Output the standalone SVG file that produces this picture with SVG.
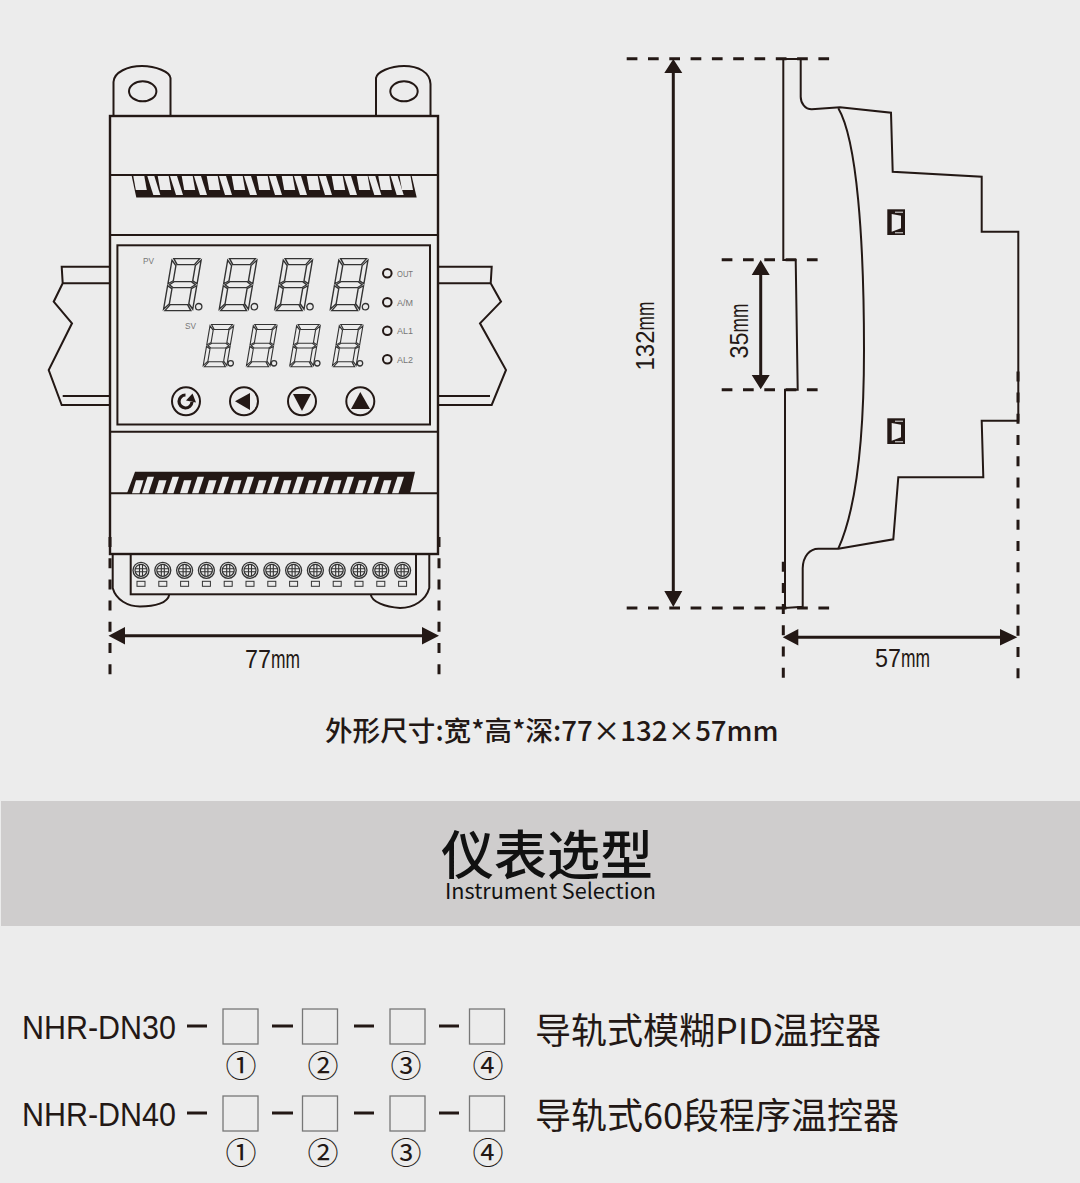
<svg xmlns="http://www.w3.org/2000/svg" width="1080" height="1183" viewBox="0 0 1080 1183">
<style>
.l{fill:none;stroke:#231815;stroke-width:2}
.d{fill:none;stroke:#231815;stroke-width:3;stroke-dasharray:10.700 10.600}
.v{fill:none;stroke:#231815;stroke-width:3;stroke-dasharray:10 11.200}
.s{fill:none;stroke:#231815;stroke-width:3}
.k{fill:#231815}
.seg{fill:none;stroke:#333;stroke-width:1.3}
.t{font-family:"Noto Sans CJK SC","Liberation Sans",sans-serif;fill:#231815}
.n{font-family:"Liberation Sans",sans-serif;fill:#231815}
.g{font-family:"Liberation Sans",sans-serif;fill:#777;font-size:8.500px}
.box{fill:none;stroke:#777;stroke-width:1.300}
</style>
<defs>
<g id="dg" transform="scale(1.08 1) skewX(-9)">
<path class="seg" d="M3-52H27L23-46H7ZM1.500-50.500L6-45V-30L1.500-27ZM28.500-50.500L24-45V-30L28.500-27ZM3-26L7-29H23L27-26L23-23H7ZM1.500-25L6-22V-7L1.500-1.500ZM28.500-25L24-22V-7L28.500-1.500ZM3 0H27L23-6H7Z"/>
</g>
<g id="big"><use href="#dg"/><circle class="seg" cx="37" cy="-4" r="3.200"/></g>
<g id="small"><use href="#dg" transform="scale(.81)"/><circle class="seg" cx="29" cy="-3.400" r="2.700"/></g>
<g id="screw"><circle r="8" fill="none" stroke="#333" stroke-width="1.300"/><circle r="6" fill="none" stroke="#333" stroke-width="1.200"/><path d="M-6-1.500H6M-6 1.500H6M-1.500-6V6M1.500-6V6" fill="none" stroke="#333" stroke-width="1.100"/><rect x="-4" y="11" width="8" height="5" fill="none" stroke="#333" stroke-width="1"/></g>
<path id="ts" fill="#ececec" d="M0 0H11L13.500 14H2.500Z"/>
<path id="tt" fill="#ececec" d="M0 0H7L13 19H6Z"/>
<path id="bs" fill="#ececec" d="M4 0H11.500L7.500 13H0Z"/>
<path id="bt" fill="#ececec" d="M5.500 0H12L6.500 16.500H0Z"/>
</defs>
<rect width="1080" height="1183" fill="#ececec"/>
<rect x="1" y="801" width="1079" height="125" fill="#cfcdcd"/>
<g id="front-view">
<path class="l" d="M113.500 116V82C114 72 128 66 142 66C156 66 170 72 170.500 78V116"/>
<ellipse class="l" cx="142.700" cy="91.300" rx="13.700" ry="10"/>
<path class="l" d="M376 116V78C377 72 390 66 404 66C418 66 430 72 430.500 84V116"/>
<ellipse class="l" cx="404" cy="91.300" rx="13.700" ry="10"/>
<path class="l" d="M109 266.700H61.700L62.700 283.300H109M62.700 283.300L53.700 301.700L72 323.300L48.700 370L61.700 405H109M62.700 396H109"/>
<path class="l" d="M439 266.700H491.700L490.700 283.300H439M490.700 283.300L501 301.700L480 323.300L506 370L491.700 405H439M439 396H490"/>
<rect x="110" y="116" width="328" height="438" class="l" style="stroke-width:2.400"/>
<path class="l" d="M110 175H438M110 235H438M110 431.700H438M110 493.300H438"/>
<polygon class="k" points="131.700,176 411.700,176 416.700,197.500 136.300,197.500"/>
<g id="top-slot"><use href="#ts" x="133.300" y="176"/><use href="#tt" x="147.300" y="176"/><use href="#ts" x="157.700" y="176"/><use href="#tt" x="170" y="176"/><use href="#ts" x="181.700" y="176"/><use href="#tt" x="194" y="176"/><use href="#ts" x="206.700" y="176"/><use href="#tt" x="219" y="176"/><use href="#ts" x="231.700" y="176"/><use href="#tt" x="244" y="176"/><use href="#ts" x="256.700" y="176"/><use href="#tt" x="269" y="176"/><use href="#ts" x="281.700" y="176"/><use href="#tt" x="294" y="176"/><use href="#ts" x="306.700" y="176"/><use href="#tt" x="319" y="176"/><use href="#ts" x="331.700" y="176"/><use href="#tt" x="344" y="176"/><use href="#ts" x="356.700" y="176"/><use href="#tt" x="368.300" y="176"/><use href="#ts" x="378.300" y="176"/><use href="#tt" x="390.700" y="176"/><use href="#ts" x="399.500" y="176"/></g>
<polygon class="k" points="135,471.700 415,471.700 410,493.300 127,493.300"/>
<g id="bottom-slot"><use href="#bs" x="132" y="480.300"/><use href="#bt" x="142" y="476.800"/><use href="#bs" x="155" y="480.300"/><use href="#bt" x="167" y="476.800"/><use href="#bs" x="180" y="480.300"/><use href="#bt" x="192" y="476.800"/><use href="#bs" x="205" y="480.300"/><use href="#bt" x="217" y="476.800"/><use href="#bs" x="230" y="480.300"/><use href="#bt" x="242" y="476.800"/><use href="#bs" x="255" y="480.300"/><use href="#bt" x="267" y="476.800"/><use href="#bs" x="280" y="480.300"/><use href="#bt" x="292" y="476.800"/><use href="#bs" x="305" y="480.300"/><use href="#bt" x="317" y="476.800"/><use href="#bs" x="330" y="480.300"/><use href="#bt" x="342" y="476.800"/><use href="#bs" x="355" y="480.300"/><use href="#bt" x="367" y="476.800"/><use href="#bs" x="380" y="480.300"/><use href="#bt" x="392" y="476.800"/></g>
<rect x="117.400" y="245.300" width="312.600" height="179.200" class="l"/>
<text class="g" x="143" y="264" textLength="11" lengthAdjust="spacingAndGlyphs">PV</text>
<text class="g" x="185" y="329" textLength="11" lengthAdjust="spacingAndGlyphs">SV</text>
<use href="#big" x="161.700" y="310.700"/><use href="#big" x="217.400" y="310.700"/><use href="#big" x="273" y="310.700"/><use href="#big" x="328.500" y="310.700"/>
<use href="#small" x="201.700" y="366.700"/><use href="#small" x="245" y="366.700"/><use href="#small" x="288.300" y="366.700"/><use href="#small" x="331" y="366.700"/>
<g class="l"><circle cx="387.300" cy="273.300" r="4.300"/><circle cx="387.300" cy="302.300" r="4.300"/><circle cx="387.300" cy="330.700" r="4.300"/><circle cx="387.300" cy="359.300" r="4.300"/></g>
<text class="g" x="397" y="277" textLength="16" lengthAdjust="spacingAndGlyphs">OUT</text>
<text class="g" x="397" y="306" textLength="16" lengthAdjust="spacingAndGlyphs">A/M</text>
<text class="g" x="397" y="334" textLength="16" lengthAdjust="spacingAndGlyphs">AL1</text>
<text class="g" x="397" y="363" textLength="16" lengthAdjust="spacingAndGlyphs">AL2</text>
<g class="l"><circle cx="186" cy="401.300" r="14"/><circle cx="244" cy="401.300" r="14"/><circle cx="302" cy="401.300" r="14"/><circle cx="360.300" cy="401.300" r="14"/></g>
<path d="M185.500 395A6.500 6.500 0 1 0 192 402" fill="none" stroke="#231815" stroke-width="3.200"/><path class="k" d="M186 400.500L192.500 393.500L196 402.500Z"/>
<path class="k" d="M235 401.300L250 393V410Z"/><path class="k" d="M293 394H311L302 411Z"/><path class="k" d="M351 409L360.300 392L370 409Z"/>
<rect x="130.700" y="554" width="285.300" height="40.300" class="l"/>
<path class="l" d="M112.700 554V588C116 600 128 606.500 140 606.500C155 606.500 168 603 169.300 594.300"/>
<path class="l" d="M429.300 554V588C426 600 414 608 400 608C385 607 372 602 370.700 594.300"/>
<g id="screws"><use href="#screw" x="141" y="570.300"/><use href="#screw" x="162.800" y="570.300"/><use href="#screw" x="184.600" y="570.300"/><use href="#screw" x="206.400" y="570.300"/><use href="#screw" x="228.200" y="570.300"/><use href="#screw" x="250" y="570.300"/><use href="#screw" x="271.800" y="570.300"/><use href="#screw" x="293.600" y="570.300"/><use href="#screw" x="315.400" y="570.300"/><use href="#screw" x="337.200" y="570.300"/><use href="#screw" x="359" y="570.300"/><use href="#screw" x="380.800" y="570.300"/><use href="#screw" x="402.600" y="570.300"/></g>
</g>
<g id="side-view">
<path class="l" d="M783.300 59V260H795.700L797.700 389.700H785V608L802.700 606.700V568.300C803 556 810 548.700 818.300 548.700H838.300L893.300 539.300L898.300 477.300H983.300L981.700 420.700H1018.300V231.700H981.700V176.700L892.700 171.700L891 112.700L840 107.300L811.700 109.300C805 109.300 800.700 103 800.700 96.700V59Z"/>
<path class="l" d="M838.300 108.300C857 140 864 240 864 350C864 430 858 505 838.300 548.700"/>
<g id="clip-upper"><rect class="k" x="887.300" y="209.300" width="17.700" height="25.700"/><path fill="#ececec" d="M891.700 214L901 215.700V228.300L891.700 231.700Z"/><path fill="none" stroke="#ececec" stroke-width="1" d="M895 212.200H903M895 232.800H903"/></g>
<g id="clip-lower"><rect class="k" x="887.300" y="418.300" width="17.700" height="25.700"/><path fill="#ececec" d="M891.700 423L901 424.700V437.300L891.700 440.700Z"/><path fill="none" stroke="#ececec" stroke-width="1" d="M895 421.200H903M895 441.800H903"/></g>
</g>
<g id="connectors">
<path class="v" d="M110 537V675M439 537V675"/>
<path class="s" d="M122 635.700H427"/><path class="k" d="M108.500 635.700L125 627V644.400Z M439 635.700L422 627V644.400Z"/>
<path class="d" d="M626.700 58.700H830M626.700 608H830"/>
<path class="s" d="M673.300 70V595"/><path class="k" d="M673.300 59L664.300 73H682.300Z M673.300 607L664.300 591H682.300Z"/>
<path class="d" d="M721.700 259.700H818M721.700 389.700H818"/>
<path class="s" d="M760.700 270V380"/><path class="k" d="M760.700 260L751.700 275H769.700Z M760.700 389.300L751.700 375H769.700Z"/>
<path class="v" d="M783.300 561.700V680M1018 371.400V680"/>
<path class="s" d="M795 637.300H1006"/><path class="k" d="M782.700 637.300L798.300 629V645.600Z M1017.300 637.300L1000 629V645.600Z"/>
</g>
<g id="labels">
<text class="n" x="245" y="668" font-size="25"><tspan textLength="26" lengthAdjust="spacingAndGlyphs">77</tspan><tspan textLength="29" lengthAdjust="spacingAndGlyphs">mm</tspan></text>
<text class="n" x="875" y="667" font-size="25"><tspan textLength="26" lengthAdjust="spacingAndGlyphs">57</tspan><tspan textLength="29" lengthAdjust="spacingAndGlyphs">mm</tspan></text>
<text class="n" transform="translate(654 370.500) rotate(-90)" font-size="25"><tspan textLength="40" lengthAdjust="spacingAndGlyphs">132</tspan><tspan textLength="29" lengthAdjust="spacingAndGlyphs">mm</tspan></text>
<text class="n" transform="translate(748 358.500) rotate(-90)" font-size="25"><tspan textLength="26" lengthAdjust="spacingAndGlyphs">35</tspan><tspan textLength="29" lengthAdjust="spacingAndGlyphs">mm</tspan></text>
<text class="t" x="325" y="741" font-size="27.600" font-weight="500">外形尺寸:宽*高*深:77×132×57mm</text>
<text class="t" x="441" y="875" font-size="53" font-weight="500" style="fill:#111">仪表选型</text>
<text class="t" x="445" y="899" font-size="21.600" style="fill:#111">Instrument Selection</text>
</g>
<g id="model-code">
<text class="n" x="22" y="1039" font-size="34" textLength="154" lengthAdjust="spacingAndGlyphs">NHR-DN30</text>
<text class="n" x="22" y="1126" font-size="34" textLength="154" lengthAdjust="spacingAndGlyphs">NHR-DN40</text>
<path class="s" d="M187 1026H207M272 1026H293M354 1026H374M439 1026H459M187 1113H207M272 1113H293M354 1113H374M439 1113H459"/>
<g class="box"><rect x="223" y="1009" width="35" height="35"/><rect x="302.500" y="1009" width="35" height="35"/><rect x="390" y="1009" width="35" height="35"/><rect x="469.500" y="1009" width="35" height="35"/><rect x="223" y="1096" width="35" height="35"/><rect x="302.500" y="1096" width="35" height="35"/><rect x="390" y="1096" width="35" height="35"/><rect x="469.500" y="1096" width="35" height="35"/></g>
<g class="t" font-size="31" text-anchor="middle"><text x="241" y="1076.500">①</text><text x="323" y="1076.500">②</text><text x="406" y="1076.500">③</text><text x="488" y="1076.500">④</text><text x="241" y="1163.500">①</text><text x="323" y="1163.500">②</text><text x="406" y="1163.500">③</text><text x="488" y="1163.500">④</text></g>
<text class="t" x="535" y="1044" font-size="36">导轨式模糊PID温控器</text>
<text class="t" x="535" y="1129" font-size="36">导轨式60段程序温控器</text>
</g>
</svg>
